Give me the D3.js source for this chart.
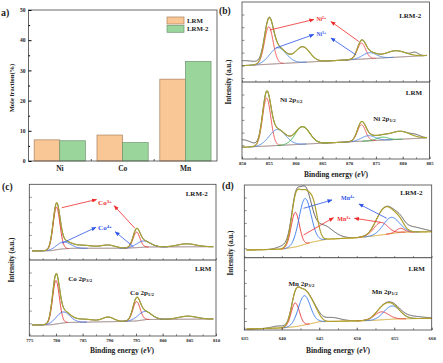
<!DOCTYPE html>
<html>
<head>
<meta charset="utf-8">
<script src="https://cdn.jsdelivr.net/npm/d3@7"></script>
<style>
body { margin: 0; background: #fff; }
text { font-family: "Liberation Serif", "Times New Roman", serif; font-weight: bold; }
</style>
</head>
<body>
<div id="chart"></div>
<script>
// ---- (a) mole fraction ----
var elements = ["Ni", "Co", "Mn"];
var samples = ["LRM", "LRM-2"];
var lrmFraction = [7.0, 8.6, 27.1];
var lrm2Fraction = [6.7, 6.1, 33.0];
var fractionTicks = [0, 10, 20, 30, 40, 50];

// ---- XPS fits ----
// background: [binding energy eV, intensity a.u.]
// peaks: c = centre (eV), h = height above background, w = FWHM (eV)
// kind "fit" is in envelope and data, "fitOnly" envelope only, "rawOnly" data only
var niRange = [850, 884.5];
var niTicks = [850, 855, 860, 865, 870, 875, 880, 885];
var niLRM2Bg = [[850, 16.3], [884.5, 26.5]];
var niLRM2Peaks = [
  {c: 855.0, h: 37.5, w: 1.9, kind: "Ni2+"},
  {c: 856.7, h: 16, w: 3.6, kind: "Ni3+"},
  {c: 861.3, h: 15.5, w: 3.2, kind: "fit"},
  {c: 872.3, h: 16, w: 1.8, kind: "Ni2+"},
  {c: 873.8, h: 6, w: 3, kind: "Ni3+"},
  {c: 878.6, h: 6.5, w: 4.5, kind: "fit"},
  {c: 850.0, h: 5, w: 6, kind: "rawOnly"},
  {c: 882.3, h: 3, w: 1.5, kind: "rawOnly"}
];
var niLRMBg = [[850, 11.7], [884.5, 21.1]];
var niLRMPeaks = [
  {c: 854.6, h: 48, w: 1.8, kind: "Ni2+"},
  {c: 856.6, h: 16, w: 3.6, kind: "Ni3+"},
  {c: 861.3, h: 17.5, w: 3.2, kind: "sat"},
  {c: 872.3, h: 16.5, w: 1.8, kind: "Ni2+"},
  {c: 873.6, h: 5.2, w: 3, kind: "Ni3+"},
  {c: 876.2, h: 3, w: 2.5, kind: "sat"},
  {c: 879.4, h: 8, w: 4.5, kind: "fit"},
  {c: 850.0, h: 7.5, w: 4, kind: "rawOnly"},
  {c: 882.5, h: 2, w: 2, kind: "rawOnly"}
];

var coRange = [775.5, 809.5];
var coTicks = [775, 780, 785, 790, 795, 800, 805, 810];
var coLRM2Bg = [[775.5, 9], [779, 9.3], [781, 11], [783, 11.7], [793, 11.8], [795, 12.3], [797, 13], [809.5, 13.3]];
var coLRM2Peaks = [
  {c: 780.1, h: 42.5, w: 1.5, kind: "Co3+"},
  {c: 781.4, h: 7, w: 3, kind: "Co4+"},
  {c: 785.0, h: 3, w: 5, kind: "fit"},
  {c: 789.8, h: 3, w: 3, kind: "fit"},
  {c: 795.1, h: 15.5, w: 1.5, kind: "Co3+"},
  {c: 796.4, h: 6.2, w: 3, kind: "Co4+"},
  {c: 804.5, h: 3, w: 4, kind: "fit"}
];
var coLRMBg = [[775.5, 11], [779, 11.2], [782, 13.5], [792, 14.5], [795, 15], [797, 16.5], [809.5, 17]];
var coLRMPeaks = [
  {c: 780.0, h: 43.5, w: 1.5, kind: "Co3+"},
  {c: 781.3, h: 11, w: 3, kind: "Co4+"},
  {c: 785.0, h: 3, w: 5, kind: "fit"},
  {c: 789.8, h: 4.4, w: 2.5, kind: "fit"},
  {c: 795.1, h: 19.3, w: 1.6, kind: "Co3+"},
  {c: 796.6, h: 8.3, w: 3, kind: "Co4+"},
  {c: 804.7, h: 3, w: 4, kind: "fit"}
];

var mnRange = [635.3, 660];
var mnTicks = [635, 640, 645, 650, 655, 660];
var mnLRM2Bg = [[635.3, 7.7], [640, 8.5], [642, 11], [644, 15.5], [646, 18.5], [650, 20], [652, 21.5], [654, 23.5], [656, 25.5], [660, 26]];
var mnLRM2Peaks = [
  {c: 641.8, h: 34.5, w: 1.3, kind: "Mn3+"},
  {c: 643.1, h: 45.7, w: 1.9, kind: "Mn4+"},
  {c: 642.3, h: 6, w: 2.5, kind: "fit"},
  {c: 644.3, h: 24, w: 1.3, kind: "fitOnly"},
  {c: 645.2, h: 15, w: 3.5, kind: "rawOnly"},
  {c: 640.3, h: 3, w: 2, kind: "rawOnly"},
  {c: 653.2, h: 12.5, w: 2.2, kind: "Mn3+"},
  {c: 655.8, h: 4, w: 1.3, kind: "Mn3+"},
  {c: 654.6, h: 16.2, w: 2.5, kind: "Mn4+"},
  {c: 654.0, h: 5, w: 3, kind: "fit"},
  {c: 657.3, h: 5, w: 3.5, kind: "rawOnly"}
];
var mnLRMBg = [[635.3, 1], [640, 2], [642, 3.5], [644, 6.5], [645, 8.3], [648, 8.8], [652, 9.5], [655, 11], [660, 11.7]];
var mnLRMPeaks = [
  {c: 641.8, h: 23.7, w: 1.3, kind: "Mn3+"},
  {c: 643.0, h: 29.3, w: 1.9, kind: "Mn4+"},
  {c: 642.3, h: 3, w: 2.5, kind: "fit"},
  {c: 644.3, h: 11, w: 1.6, kind: "fit"},
  {c: 646.5, h: 4, w: 3, kind: "rawOnly"},
  {c: 639.5, h: 2, w: 2, kind: "rawOnly"},
  {c: 653.3, h: 8, w: 2.2, kind: "Mn3+"},
  {c: 654.7, h: 13.2, w: 2.5, kind: "Mn4+"},
  {c: 657.0, h: 2.5, w: 4, kind: "rawOnly"}
];

var kindColor = {
  "Ni2+": "#f04848", "Ni3+": "#3f7fe0", "sat": "#33b04a",
  "Co3+": "#e62e2e", "Co4+": "#3a66e8",
  "Mn3+": "#e62e2e", "Mn4+": "#2f74ec"
};
var RED = "#ee2a2a", BLUE = "#2f55e8", INK = "#222";

var svg = d3.select("#chart").append("svg")
  .attr("width", 443).attr("height", 363)
  .style("background", "#fff");

var defs = svg.append("defs");
[["red", RED], ["blue", BLUE]].forEach(function (m) {
  defs.append("marker").attr("id", "ah-" + m[0])
    .attr("viewBox", "0 0 10 10").attr("refX", 9).attr("refY", 5)
    .attr("markerUnits", "userSpaceOnUse")
    .attr("markerWidth", 5).attr("markerHeight", 5).attr("orient", "auto")
    .append("path").attr("d", "M0,1L10,5L0,9z").attr("fill", m[1]);
});

function richText(g, x, y, parts, size, color, anchor) {
  var t = g.append("text").attr("x", x).attr("y", y)
    .attr("font-size", size).attr("fill", color || INK)
    .attr("text-anchor", anchor || "start");
  parts.forEach(function (p) {
    var ts = t.append("tspan").text(p[0]);
    if (p[1] === "sup") ts.attr("font-size", size * 0.7).attr("baseline-shift", "45%");
    if (p[1] === "sub") ts.attr("font-size", size * 0.7).attr("baseline-shift", "-25%");
    if (p[1] === "it") ts.attr("font-style", "italic");
  });
  return t;
}

// ================= (a) =================
(function () {
  var x = d3.scaleBand().domain(elements).range([28.5, 217]);
  var y = d3.scaleLinear().domain([0, 50]).range([161, 10]);
  var bw = x.bandwidth();
  var xs = d3.scaleBand().domain(samples).range([bw * 0.09, bw * 0.905]);
  var fill = {"LRM": "#f9c696", "LRM-2": "#9ad69b"};
  var edge = {"LRM": "#a8825f", "LRM-2": "#6f956f"};
  var rows = [];
  elements.forEach(function (el, i) {
    rows.push({el: el, s: "LRM", v: lrmFraction[i]});
    rows.push({el: el, s: "LRM-2", v: lrm2Fraction[i]});
  });

  var g = svg.append("g");
  g.selectAll("rect.bar").data(rows).enter().append("rect")
    .attr("class", "bar")
    .attr("x", function (d) { return x(d.el) + xs(d.s); })
    .attr("y", function (d) { return y(d.v); })
    .attr("width", xs.bandwidth())
    .attr("height", function (d) { return y(0) - y(d.v); })
    .attr("fill", function (d) { return fill[d.s]; })
    .attr("stroke", function (d) { return edge[d.s]; })
    .attr("stroke-width", 0.7);

  g.append("rect").attr("x", 28.5).attr("y", 10).attr("width", 188.5).attr("height", 151)
    .attr("fill", "none").attr("stroke", "#444").attr("stroke-width", 0.8);

  var ya = g.append("g").attr("transform", "translate(28.5,0)")
    .call(d3.axisLeft(y).tickValues(fractionTicks).tickSize(-3).tickPadding(3));
  ya.select(".domain").remove();
  ya.selectAll("text").attr("font-size", 5.5).attr("fill", INK);
  var ym = g.append("g").attr("transform", "translate(28.5,0)")
    .call(d3.axisLeft(y).tickValues([5, 15, 25, 35, 45]).tickSize(-1.6).tickFormat(""));
  ym.select(".domain").remove();

  // ticks between groups
  g.selectAll("line.gt").data(elements.slice(1)).enter().append("line")
    .attr("x1", function (d) { return x(d); }).attr("x2", function (d) { return x(d); })
    .attr("y1", 161).attr("y2", 159).attr("stroke", "#333").attr("stroke-width", 0.8);
  g.selectAll("text.el").data(elements).enter().append("text")
    .attr("x", function (d) { return x(d) + bw / 2; }).attr("y", 171)
    .attr("text-anchor", "middle").attr("font-size", 7.5).attr("fill", INK)
    .text(function (d) { return d; });

  g.append("text").attr("transform", "translate(14,88) rotate(-90)")
    .attr("text-anchor", "middle").attr("font-size", 6.5).attr("fill", INK)
    .text("Mole fraction(%)");
  g.append("text").attr("x", 1).attr("y", 16).attr("font-size", 10).attr("fill", INK).text("a)");

  samples.forEach(function (s, i) {
    g.append("rect").attr("x", 167).attr("y", 17 + i * 8.3).attr("width", 17).attr("height", 7)
      .attr("fill", fill[s]).attr("stroke", edge[s]).attr("stroke-width", 0.7);
    g.append("text").attr("x", 187).attr("y", 23 + i * 8.3).attr("font-size", 6.8)
      .attr("fill", INK).text(s);
  });
})();

// ================= XPS panels =================
function gauss(p, e) {
  return p.h * Math.exp(-4 * Math.LN2 * (e - p.c) * (e - p.c) / (p.w * p.w));
}

var clipId = 0;
function drawSpectrum(g, x, y, range, bgPts, peaks, st) {
  var bgAt = d3.scaleLinear().domain(bgPts.map(function (d) { return d[0]; }))
    .range(bgPts.map(function (d) { return d[1]; })).clamp(true);
  var grid = d3.range(range[0], range[1] + 1e-6, 0.05);
  var line = d3.line().x(function (d) { return x(d[0]); }).y(function (d) { return y(d[1]); });
  function total(e, keep) {
    return bgAt(e) + d3.sum(peaks.filter(keep), function (p) { return gauss(p, e); });
  }
  var raw = grid.map(function (e) { return [e, total(e, function (p) { return p.kind !== "fitOnly"; })]; });
  var env = grid.map(function (e) { return [e, total(e, function (p) { return p.kind !== "rawOnly"; })]; });
  var bg = grid.map(function (e) { return [e, bgAt(e)]; });

  g.append("path").datum(raw).attr("d", line).attr("fill", "none")
    .attr("stroke", "#3a3a3a").attr("stroke-width", 0.8);
  g.append("path").datum(bg).attr("d", line).attr("fill", "none")
    .attr("stroke", st.bg).attr("stroke-width", 1);
  peaks.filter(function (p) { return kindColor[p.kind]; }).forEach(function (p) {
    var pts = grid.filter(function (e) { return Math.abs(e - p.c) <= 1.5 * p.w; })
      .map(function (e) { return [e, bgAt(e) + gauss(p, e)]; });
    g.append("path").datum(pts).attr("d", line).attr("fill", "none")
      .attr("stroke", kindColor[p.kind]).attr("stroke-width", 0.9);
  });
  g.append("path").datum(env).attr("d", line).attr("fill", "none")
    .attr("stroke", st.env).attr("stroke-width", 1.2);
}

function arrow(g, x, y, a, b, col) {
  g.append("line").attr("x1", x(a[0])).attr("y1", y(a[1]))
    .attr("x2", x(b[0])).attr("y2", y(b[1]))
    .attr("stroke", col === "red" ? RED : BLUE).attr("stroke-width", 0.8)
    .attr("marker-end", "url(#ah-" + col + ")");
}

function drawPanel(P) {
  var g = svg.append("g");
  var x = d3.scaleLinear().domain([P.ticks[0], P.ticks[P.ticks.length - 1]]).range([P.x0, P.x1]);
  var subs = [
    {top: P.top, bottom: P.mid, bg: P.upperBg, peaks: P.upperPeaks, ann: P.upperAnn},
    {top: P.mid, bottom: P.bottom, bg: P.lowerBg, peaks: P.lowerPeaks, ann: P.lowerAnn}
  ];
  subs.forEach(function (s) {
    var y = d3.scaleLinear().domain([0, s.bottom - s.top]).range([s.bottom, s.top]);
    var id = "clip" + (clipId++);
    defs.append("clipPath").attr("id", id).append("rect")
      .attr("x", P.x0).attr("y", s.top).attr("width", P.x1 - P.x0).attr("height", s.bottom - s.top);
    var sg = g.append("g").attr("clip-path", "url(#" + id + ")");
    drawSpectrum(sg, x, y, P.range, s.bg, s.peaks, P.style);
    var yt = g.append("g").attr("transform", "translate(" + P.x0 + ",0)")
      .call(d3.axisLeft(y).tickValues(d3.range(s.bottom - s.top - 12.5, 1, -12.7)).tickSize(-2.5).tickFormat(""));
    yt.select(".domain").remove();
    s.ann(g, x, y);
  });
  g.selectAll(".tick line").attr("stroke", "#444").attr("stroke-width", 0.6);

  g.append("rect").attr("x", P.x0).attr("y", P.top).attr("width", P.x1 - P.x0).attr("height", P.bottom - P.top)
    .attr("fill", "none").attr("stroke", "#444").attr("stroke-width", 0.8);
  g.append("line").attr("x1", P.x0).attr("x2", P.x1).attr("y1", P.mid).attr("y2", P.mid)
    .attr("stroke", "#333").attr("stroke-width", 0.9);

  var minor = d3.range(P.ticks[0], P.ticks[P.ticks.length - 1] + 0.01, 2.5);
  var xa = g.append("g").attr("transform", "translate(0," + P.bottom + ")")
    .call(d3.axisBottom(x).tickValues(P.ticks).tickSize(-2.5).tickPadding(P.pad).tickFormat(d3.format("d")));
  xa.select(".domain").remove();
  xa.selectAll("text").attr("font-size", 4.8).attr("fill", INK).attr("font-weight", "normal");
  [P.bottom, P.mid].forEach(function (yy) {
    var m = g.append("g").attr("transform", "translate(0," + yy + ")")
      .call(d3.axisBottom(x).tickValues(minor).tickSize(-1.8).tickFormat(""));
    m.select(".domain").remove();
  });
  g.selectAll(".tick line").attr("stroke", "#444").attr("stroke-width", 0.6);

  richText(g, P.xlab[0], P.xlab[1], [["Binding energy ("], ["eV", "it"], [")"]], 7.5, INK, "middle");
  g.append("text").attr("transform", "translate(" + P.ylab[0] + "," + P.ylab[1] + ") rotate(-90)")
    .attr("text-anchor", "middle").attr("font-size", 7.2).attr("fill", INK).text("Intensity (a.u.)");
  g.append("text").attr("x", P.tag[0]).attr("y", P.tag[1]).attr("font-size", 9.5).attr("fill", INK).text(P.tagText);
}

// (b) Ni 2p
drawPanel({
  range: niRange, ticks: niTicks, x0: 242, x1: 429.5, top: 2, mid: 82, bottom: 159, pad: 2.5,
  upperBg: niLRM2Bg, upperPeaks: niLRM2Peaks, lowerBg: niLRMBg, lowerPeaks: niLRMPeaks,
  style: {env: "#a9a334", bg: "#8c6e6e"},
  xlab: [336, 177], ylab: [231, 82], tag: [219, 14], tagText: "(b)",
  upperAnn: function (g, x, y) {
    arrow(g, x, y, [855.2, 52], [863.4, 62.5], "red");
    arrow(g, x, y, [871.8, 40.5], [866.6, 60.5], "red");
    arrow(g, x, y, [856.3, 34], [863.4, 47.5], "blue");
    arrow(g, x, y, [871.3, 27], [866.6, 44], "blue");
    richText(g, x(863.9), y(61), [["Ni"], ["2+", "sup"]], 5.5, RED);
    richText(g, x(863.9), y(46), [["Ni"], ["3+", "sup"]], 5.5, BLUE);
    g.append("text").attr("x", x(881.4)).attr("y", y(64)).attr("text-anchor", "middle")
      .attr("font-size", 7).attr("fill", INK).text("LRM-2");
  },
  lowerAnn: function (g, x, y) {
    g.append("text").attr("x", x(882.1)).attr("y", y(64)).attr("text-anchor", "middle")
      .attr("font-size", 7).attr("fill", INK).text("LRM");
    richText(g, x(857.1), y(57), [["Ni 2p"], ["3/2", "sub"]], 7);
    richText(g, x(874.5), y(38), [["Ni 2p"], ["1/2", "sub"]], 7);
  }
});

// (c) Co 2p
drawPanel({
  range: coRange, ticks: coTicks, x0: 29.3, x1: 216, top: 184.3, mid: 260, bottom: 336, pad: 2.5,
  upperBg: coLRM2Bg, upperPeaks: coLRM2Peaks, lowerBg: coLRMBg, lowerPeaks: coLRMPeaks,
  style: {env: "#a9a334", bg: "#8c6e6e"},
  xlab: [122, 353], ylab: [14, 260], tag: [2, 190], tagText: "(c)",
  upperAnn: function (g, x, y) {
    arrow(g, x, y, [781.1, 52.3], [787.6, 60.5], "red");
    arrow(g, x, y, [794.8, 31.7], [790.9, 54.3], "red");
    arrow(g, x, y, [781.1, 16.7], [787.5, 32.7], "blue");
    arrow(g, x, y, [794.5, 13.3], [791.1, 28.3], "blue");
    richText(g, x(787.9), y(55), [["Co"], ["3+", "sup"]], 7, RED);
    richText(g, x(787.9), y(30), [["Co"], ["4+", "sup"]], 7, BLUE);
    g.append("text").attr("x", x(806.4)).attr("y", y(64)).attr("text-anchor", "middle")
      .attr("font-size", 7).attr("fill", INK).text("LRM-2");
  },
  lowerAnn: function (g, x, y) {
    g.append("text").attr("x", x(807.6)).attr("y", y(65)).attr("text-anchor", "middle")
      .attr("font-size", 7).attr("fill", INK).text("LRM");
    richText(g, x(782.3), y(55.5), [["Co 2p"], ["3/2", "sub"]], 7);
    richText(g, x(793.9), y(41.5), [["Co 2p"], ["1/2", "sub"]], 7);
  }
});

// (d) Mn 2p
drawPanel({
  range: mnRange, ticks: mnTicks, x0: 244.3, x1: 431.7, top: 185, mid: 257.7, bottom: 330, pad: 7,
  upperBg: mnLRM2Bg, upperPeaks: mnLRM2Peaks, lowerBg: mnLRMBg, lowerPeaks: mnLRMPeaks,
  style: {env: "#b0a02e", bg: "#d3a52c"},
  xlab: [338, 353], ylab: [233, 253], tag: [222, 189], tagText: "(d)",
  upperAnn: function (g, x, y) {
    arrow(g, x, y, [642.9, 49.4], [646.7, 57.7], "blue");
    arrow(g, x, y, [654.0, 39.4], [650.3, 53.7], "blue");
    arrow(g, x, y, [642.9, 22.7], [646.9, 40], "red");
    arrow(g, x, y, [653.2, 35.4], [649.7, 39.4], "red");
    richText(g, x(647.9), y(57.7), [["Mn"], ["4+", "sup"]], 6, BLUE);
    richText(g, x(647.4), y(37.2), [["Mn"], ["3+", "sup"]], 6, RED);
    g.append("text").attr("x", x(657.3)).attr("y", y(62.7)).attr("text-anchor", "middle")
      .attr("font-size", 7).attr("fill", INK).text("LRM-2");
  },
  lowerAnn: function (g, x, y) {
    g.append("text").attr("x", x(658)).attr("y", y(59)).attr("text-anchor", "middle")
      .attr("font-size", 7).attr("fill", INK).text("LRM");
    richText(g, x(640.9), y(44), [["Mn 2p"], ["3/2", "sub"]], 7);
    richText(g, x(652), y(36.5), [["Mn 2p"], ["1/2", "sub"]], 7);
  }
});
</script>
</body>
</html>
